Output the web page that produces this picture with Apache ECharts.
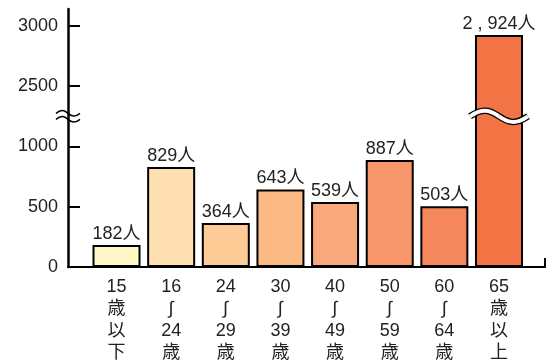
<!DOCTYPE html>
<html><head><meta charset="utf-8">
<script src="https://cdn.jsdelivr.net/npm/echarts@6/dist/echarts.min.js"></script>
<style>html,body{margin:0;padding:0;background:#fff}#c{width:555px;height:360px}</style>
</head><body><div id="c"></div>
<script>
const categories = ['15歳以下', '16〜24歳', '24〜29歳', '30〜39歳', '40〜49歳', '50〜59歳', '60〜64歳', '65歳以上'];
const values = [182, 829, 364, 643, 539, 887, 503, 2924];
const yTicks = [0, 500, 1000, 2500, 3000];
const barColors = ['#FFF8C6', '#FEE0B3', '#FDCB95', '#FBBA84', '#F9A97B', '#F7956B', '#F5875C', '#F27343'];
const BREAK_FROM = 1250, BREAK_TO = 2250;
const GAP = BREAK_TO - BREAK_FROM;
function toAxis(v) { return v >= BREAK_TO ? v - GAP : v; }
function fromAxis(v) { return v > BREAK_FROM ? v + GAP : v; }
function vertical(s) { return s.match(/\d+|./g).map(t => t === '〜' ? '∫' : t).join('\n'); }
const FONT = "'Liberation Sans', Arial, 'Noto Sans CJK JP', sans-serif";
const TXT = '#222';
const X_MIN = -0.888, X_MAX = 7.842;

const chart = echarts.init(document.getElementById('c'), null, {renderer: 'canvas'});
const xIdx = categories.map((c, i) => i);
chart.setOption({
  animation: false,
  backgroundColor: '#fff',
  grid: {left: 68, right: 10, top: 9, bottom: 93, containLabel: false, outerBoundsMode: 'none'},
  xAxis: {
    type: 'value', min: X_MIN, max: X_MAX,
    splitLine: {show: false},
    axisLine: {show: true, onZero: false, lineStyle: {color: '#000', width: 2}},
    axisTick: {show: false},
    axisLabel: {
      customValues: xIdx, margin: 9,
      fontFamily: FONT, fontSize: 18, lineHeight: 22, color: TXT, align: 'center',
      formatter: v => vertical(categories[Math.round(v)] || '')
    }
  },
  yAxis: {
    type: 'value', min: 0, max: 2140,
    splitLine: {show: false},
    axisLine: {show: true, onZero: false, lineStyle: {color: '#000', width: 2.5}},
    axisTick: {show: true, inside: true, length: 12, customValues: yTicks.map(toAxis), lineStyle: {color: '#000', width: 2}},
    axisLabel: {
      customValues: yTicks.map(toAxis), margin: 10,
      fontFamily: FONT, fontSize: 18, color: TXT,
      formatter: v => String(fromAxis(v))
    }
  },
  series: [{
    type: 'bar',
    barWidth: 48,
    data: values.map((v, i) => ({
      value: [i, toAxis(v)],
      itemStyle: {color: barColors[i], borderColor: '#000', borderWidth: 2}
    })),
    label: {
      show: true, position: 'top', distance: 2,
      fontFamily: FONT, fontSize: 18, color: TXT,
      formatter: p => values[p.dataIndex].toLocaleString('en-US').replace(/,/g, ' , ') + '人'
    }
  }]
});

function waveParts(cx, cy, hw, amp, stroke, lw, z) {
  return [
    {type: 'bezierCurve', z: z, silent: true,
     shape: {x1: cx - hw, y1: cy, cpx1: cx - hw * 0.55, cpy1: cy - amp * 2, cpx2: cx - hw * 0.3, cpy2: cy - amp * 1.3, x2: cx, y2: cy},
     style: {fill: null, stroke: stroke, lineWidth: lw}},
    {type: 'bezierCurve', z: z, silent: true,
     shape: {x1: cx, y1: cy, cpx1: cx + hw * 0.3, cpy1: cy + amp * 1.3, cpx2: cx + hw * 0.55, cpy2: cy + amp * 2, x2: cx + hw, y2: cy},
     style: {fill: null, stroke: stroke, lineWidth: lw}}
  ];
}

function addBreaks() {
  const midY = chart.convertToPixel({gridIndex: 0}, [0, BREAK_FROM])[1];
  const ax = chart.convertToPixel({gridIndex: 0}, [X_MIN, 0])[0];
  const bx = chart.convertToPixel({gridIndex: 0}, [values.length - 1, 0])[0];
  const end = chart.convertToPixel({gridIndex: 0}, [X_MAX, 0]);
  const g = [].concat(
    waveParts(ax, midY - 3, 12, 2.2, '#000', 1.5, 100),
    waveParts(ax, midY + 3, 12, 2.2, '#000', 1.5, 100),
    waveParts(bx, midY, 29, 4.5, '#000', 6.5, 100),
    waveParts(bx, midY, 29, 4.5, '#fff', 4, 101),
    [{type: 'line', z: 100, silent: true, shape: {x1: end[0], y1: end[1] - 9, x2: end[0], y2: end[1]}, style: {stroke: '#000', lineWidth: 2}}]
  );
  chart.setOption({graphic: g});
}
addBreaks();
</script>
</body></html>
